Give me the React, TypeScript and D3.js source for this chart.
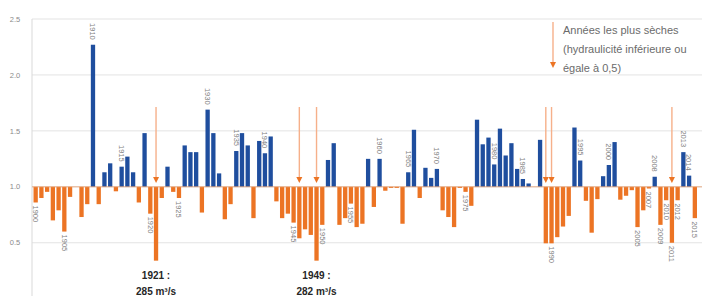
import React from "react";
import * as d3 from "d3";

const years: number[] = d3.range(1900, 2016);
const values: number[] = [
  0.86, 0.9, 0.955, 0.7, 0.79, 0.6, 0.91, 1.0, 0.73, 0.845,
  2.27, 0.845, 1.13, 1.21, 0.96, 1.18, 1.27, 1.13, 0.86, 1.48,
  0.76, 0.34, 0.9, 1.18, 0.955, 0.9, 1.37, 1.31, 1.31, 0.77,
  1.69, 1.48, 1.12, 0.71, 0.845, 1.32, 1.48, 1.37, 0.72, 1.41,
  1.3, 1.45, 0.87, 0.72, 0.76, 0.68, 0.54, 0.62, 0.57, 0.34,
  0.66, 1.24, 1.39, 0.66, 0.72, 0.85, 0.64, 0.67, 1.25, 0.82,
  1.25, 0.965, 0.99, 0.99, 0.67, 1.13, 1.51, 0.9, 1.17, 1.08,
  1.16, 0.79, 0.73, 0.64, 0.99, 0.955, 0.83, 1.6, 1.38, 1.44,
  1.2, 1.52, 1.28, 1.39, 1.16, 1.07, 1.03, 1.0, 1.42, 0.495,
  0.495, 0.55, 0.645, 0.74, 1.53, 1.235, 0.875, 0.59, 0.89, 1.095,
  1.195, 1.4, 0.885, 0.92, 0.97, 0.64, 0.79, 0.985, 1.09, 0.66,
  0.88, 0.5, 0.88, 1.31, 1.1, 0.72,
];
const labeledYears: number[] = [
  1900, 1905, 1910, 1915, 1920, 1925, 1930, 1935, 1940, 1945, 1950, 1955,
  1960, 1965, 1970, 1975, 1980, 1985, 1990, 1995, 2000, 2005, 2007, 2008,
  2009, 2010, 2011, 2012, 2013, 2014, 2015,
];
const dryYears: number[] = [1921, 1946, 1949, 1989, 1990, 2011];
const yTicks: number[] = [0, 0.5, 1.0, 1.5, 2.0, 2.5];
const annotations = [
  { year: 1921, line1: "1921 :", line2: "285 m³/s" },
  { year: 1949, line1: "1949 :", line2: "282 m³/s" },
];
const legendLines: string[] = [
  "Années les plus sèches",
  "(hydraulicité inférieure ou",
  "égale à 0,5)",
];

const W = 702;
const H = 296;
const BLUE = "#1f4e9e";
const ORANGE = "#ec7424";
const ARROW_LINE = "#f6b08a";
const FONT = "'Liberation Sans', Arial, sans-serif";

export default function App() {
  const x = d3
    .scaleBand<number>()
    .domain(years)
    .range([32.8, 697.7])
    .paddingInner(0.25)
    .paddingOuter(0.125);
  const y = d3.scaleLinear().domain([0, 2.5]).range([298.7, 19]);
  const base = 1.0;
  const bw = x.bandwidth();
  const cx = (yr: number) => (x(yr) as number) + bw / 2;
  const valOf = (yr: number) => values[years.indexOf(yr)];

  const arrowTop = 107;
  const arrowTip = 183;

  return (
    <div style={{ position: "absolute", left: 0, top: 0 }}>
      <svg width={W} height={H} style={{ display: "block", background: "#fff" }} fontFamily={FONT}>
        {/* gridlines */}
        {yTicks.map((t) => (
          <line key={"g" + t} x1={32} x2={W} y1={y(t)} y2={y(t)} stroke="#e3e3e3" strokeWidth={1} />
        ))}
        <line x1={32} x2={32} y1={y(2.5)} y2={H} stroke="#d9d9d9" strokeWidth={1} />
        {yTicks.map((t) => (
          <text key={"t" + t} x={15} y={y(t)} dy="0.35em" fontSize={7.5} fill="#8a8a8a" textAnchor="middle">
            {t.toFixed(1)}
          </text>
        ))}
        {/* bars */}
        {years.map((yr, i) => {
          const v = values[i];
          const top = Math.min(y(v), y(base));
          const h = Math.abs(y(v) - y(base));
          return (
            <rect key={yr} x={x(yr)} y={top} width={bw} height={h} fill={v >= base ? BLUE : ORANGE} />
          );
        })}
        <line x1={32} x2={W} y1={y(base)} y2={y(base)} stroke="#e9a070" strokeWidth={0.8} />
        {/* year labels */}
        {labeledYears.map((yr) => {
          const v = valOf(yr);
          const above = v >= base;
          const yy = above ? y(v) - 5 : y(v) + 3;
          return (
            <text
              key={"l" + yr}
              transform={`translate(${cx(yr)},${yy}) rotate(90)`}
              textAnchor={above ? "end" : "start"}
              dy="0.35em"
              fontSize={7.5}
              fill="#7f7f7f"
            >
              {yr}
            </text>
          );
        })}
        {/* dry-year arrows */}
        {dryYears.map((yr) => (
          <g key={"a" + yr}>
            <line x1={cx(yr)} x2={cx(yr)} y1={arrowTop} y2={arrowTip - 4} stroke={ARROW_LINE} strokeWidth={1.4} />
            <path
              d={`M${cx(yr) - 3},${arrowTip - 6} L${cx(yr) + 3},${arrowTip - 6} L${cx(yr)},${arrowTip} Z`}
              fill={ORANGE}
            />
          </g>
        ))}
        {/* annotations */}
        {annotations.map((a) => (
          <g key={"n" + a.year}>
            <text x={cx(a.year)} y={279} textAnchor="middle" fontSize={10} fontWeight="bold" fill="#262626">
              {a.line1}
            </text>
            <text x={cx(a.year)} y={295} textAnchor="middle" fontSize={10} fontWeight="bold" fill="#262626">
              {a.line2}
            </text>
          </g>
        ))}
        {/* legend */}
        <line x1={553} x2={553} y1={22} y2={63} stroke={ARROW_LINE} strokeWidth={1.4} />
        <path d={`M550,62 L556,62 L553,68 Z`} fill={ORANGE} />
        {legendLines.map((s, i) => (
          <text key={"lg" + i} x={563} y={30 + i * 19} dy="0.35em" fontSize={11} fill="#6b6b6b">
            {s}
          </text>
        ))}
      </svg>
    </div>
  );
}
